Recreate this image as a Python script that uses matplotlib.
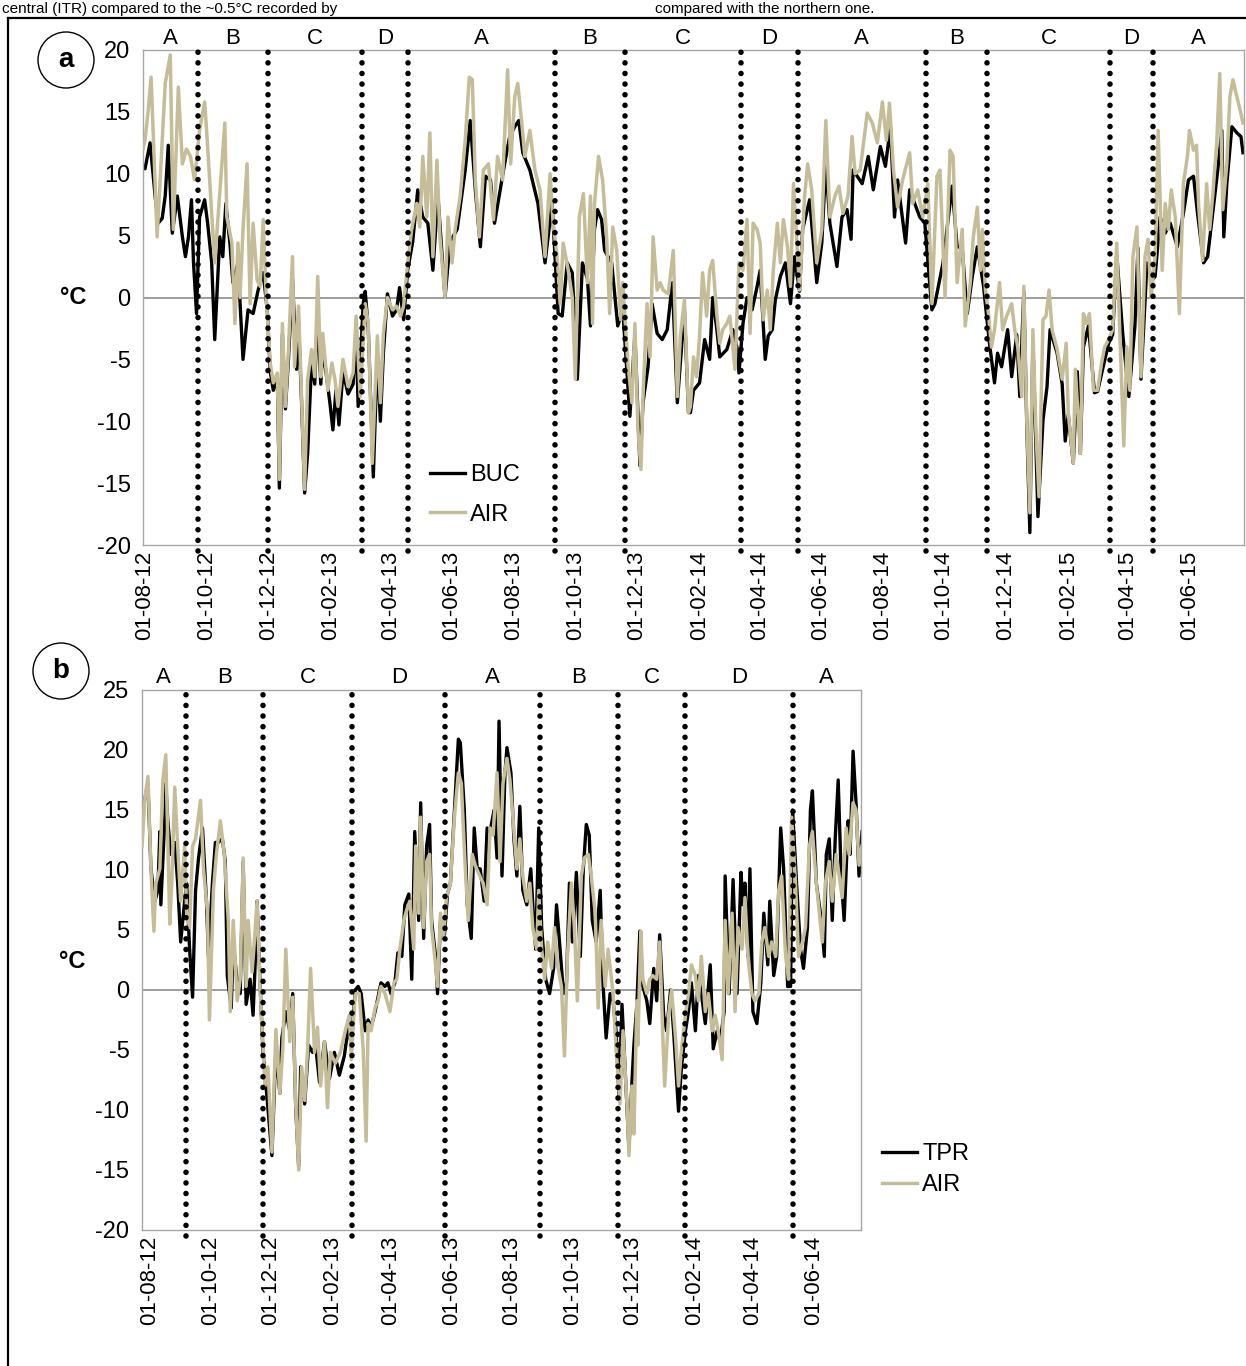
import numpy as np
import pandas as pd
import matplotlib
matplotlib.use("Agg")
import matplotlib.pyplot as plt
from matplotlib.patches import Ellipse
from matplotlib.lines import Line2D
import matplotlib.transforms as mtransforms

plt.rcParams['font.family'] = ['Liberation Sans', 'DejaVu Sans']
plt.rcParams['axes.unicode_minus'] = False

# ---------------- data (days counted from 01-08-2012) ----------------
base_date = "2012-08-01"

# Panel a: BUC site vs AIR
a_air_day = [-2, 0, 3, 6, 12, 20, 25, 28, 33, 37,
             41, 45, 49, 54, 59, 61, 69, 79, 81, 86,
             89, 92, 94, 97, 101, 104, 107, 111, 114, 117,
             120, 124, 127, 131, 133, 136, 139, 142, 146, 148,
             152, 155, 158, 161, 165, 168, 171, 174, 176, 181,
             185, 188, 191, 196, 201, 206, 209, 213, 218, 221,
             225, 230, 233, 236, 240, 245, 249, 253, 256, 260,
             264, 269, 272, 275, 279, 282, 285, 289, 292, 297,
             300, 304, 307, 312, 317, 321, 324, 327, 331, 335,
             340, 345, 349, 354, 359, 362, 366, 369, 373, 376,
             381, 386, 391, 396, 401, 404, 408, 411, 414, 419,
             423, 426, 430, 434, 438, 441, 443, 445, 449, 453,
             457, 460, 463, 467, 471, 473, 478, 482, 485, 488,
             491, 493, 497, 500, 503, 507, 510, 513, 518, 523,
             527, 530, 534, 538, 540, 543, 546, 549, 552, 556,
             559, 562, 566, 569, 572, 576, 579, 584, 588, 592,
             596, 599, 602, 606, 609, 612, 616, 619, 622, 626,
             629, 632, 636, 639, 642, 648, 653, 656, 660, 665,
             670, 674, 678, 683, 687, 691, 696, 700, 703, 708,
             715, 720, 725, 730, 734, 737, 741, 745, 750, 757,
             760, 765, 770, 775, 779, 784, 787, 792, 797, 800,
             804, 809, 812, 817, 820, 824, 827, 829, 832, 835,
             838, 841, 846, 849, 853, 858, 861, 864, 868, 870,
             873, 876, 879, 882, 885, 889, 892, 895, 898, 903,
             908, 912, 914, 919, 921, 926, 929, 932, 935, 939,
             943, 947, 950, 954, 958, 962, 965, 969, 972, 975,
             978, 982, 986, 990, 993, 996, 1000, 1003, 1007, 1010,
             1013, 1016, 1020, 1024, 1028, 1032, 1034, 1038, 1041, 1043,
             1047, 1051, 1054, 1057, 1061, 1064, 1067, 1071, 1074, 1077,
             1081, 1084, 1087]
a_air_val = [12.0, 12.7, 15.0, 17.8, 4.9, 17.3, 19.6, 5.5, 17.0, 10.8,
             12.0, 11.4, 9.5, 13.5, 15.8, 13.5, 2.8, 14.1, 6.5, 4.4,
             -2.1, 4.4, 0.0, 5.5, 10.8, -0.5, 6.0, 1.4, 0.9, 6.3,
             0.0, -5.3, -6.9, -6.1, -14.7, -2.1, -8.8, -4.2, 3.3, -5.6,
             -0.7, -8.0, -15.5, -6.6, -4.2, -6.4, 1.7, -6.4, -2.9, -7.5,
             -5.3, -6.6, -8.8, -5.0, -7.2, -6.1, -1.5, -8.0, -0.5, -2.1,
             -13.4, -3.1, -8.5, -2.9, 0.0, -1.0, -0.7, -1.5, -0.7, 2.8,
             5.5, 7.6, 5.7, 11.4, 6.5, 13.3, 3.3, 11.1, 4.9, 0.0,
             6.5, 2.8, 5.5, 8.2, 12.7, 17.8, 17.6, 9.5, 4.9, 10.3,
             10.8, 6.3, 11.4, 9.5, 18.4, 10.8, 16.2, 17.3, 14.1, 11.4,
             13.5, 10.3, 8.7, 3.3, 10.0, 6.0, 3.3, -0.5, 4.4, 2.2,
             0.0, -6.6, 6.5, 8.4, 1.2, 8.2, -2.1, 7.6, 11.4, 9.5,
             4.9, -1.3, 5.7, 3.8, -1.8, 1.2, -5.3, -8.5, -2.1, -10.7,
             -13.9, -8.0, -0.5, -4.8, 4.9, 0.6, 1.2, 0.6, 0.3, 3.8,
             -8.0, -3.1, -0.2, -9.3, -8.8, -4.8, -6.4, -3.1, 2.0, -1.5,
             2.2, 3.0, -1.3, -3.7, -2.6, -2.1, -1.5, -5.8, 2.8, 2.2,
             6.3, -2.9, 6.0, 5.5, 4.4, -1.8, 0.6, -2.6, 2.2, 6.0,
             2.8, 6.3, 4.1, 0.9, 9.2, 0.6, 8.2, 10.8, 8.7, 2.8,
             5.5, 14.3, 6.5, 8.2, 9.0, 6.8, 8.2, 13.0, 10.0, 10.3,
             14.9, 14.1, 12.5, 15.8, 12.7, 15.7, 10.3, 7.3, 9.5, 11.7,
             7.6, 8.7, 6.5, 9.2, -0.5, 9.8, 10.3, 0.0, 11.9, 11.4,
             1.2, 5.5, -2.3, 1.2, 4.9, 7.3, 2.2, 5.5, 0.6, -1.3,
             -4.0, -2.6, 1.2, -2.6, -1.5, -0.5, -2.6, -4.0, -8.0, 0.9,
             -10.1, -17.4, -2.6, -10.7, -16.1, -1.8, -1.5, 0.6, -2.6, -4.2,
             -6.6, -3.7, -9.3, -13.4, -5.8, -12.6, -1.3, -2.1, -1.3, -7.5,
             -7.5, -5.3, -4.0, -3.4, -2.6, 4.4, -2.6, -12.0, -4.0, -7.5,
             3.3, 5.7, -6.4, 3.3, 4.7, 0.0, 3.3, 13.5, 2.2, 7.6,
             5.5, 8.7, 6.5, -1.3, 9.2, 11.4, 13.5, 11.9, 12.3, 7.6,
             3.0, 9.2, 5.5, 8.2, 12.5, 18.1, 7.1, 10.8, 16.2, 17.6,
             16.2, 15.2, 14.1]

a_buc_day = [-2, 0, 5, 10, 13, 17, 20, 23, 27, 32, 37,
             40, 43, 46, 48, 51, 54, 59, 62, 66, 69,
             74, 77, 80, 84, 87, 92, 97, 102, 107, 112,
             117, 121, 124, 127, 131, 133, 136, 139, 142, 146,
             150, 152, 155, 158, 161, 165, 168, 171, 174, 176,
             183, 186, 189, 192, 196, 201, 206, 209, 211, 216,
             218, 221, 226, 230, 233, 236, 240, 245, 249, 252,
             256, 260, 265, 270, 275, 280, 285, 290, 297, 302,
             309, 317, 322, 327, 332, 337, 342, 346, 351, 356,
             361, 366, 370, 374, 381, 389, 396, 403, 409, 413,
             418, 423, 428, 433, 438, 441, 445, 448, 452, 455,
             462, 468, 473, 480, 485, 490, 493, 498, 502, 507,
             512, 517, 522, 527, 530, 534, 538, 540, 543, 549,
             554, 559, 562, 566, 569, 576, 582, 586, 588, 592,
             596, 601, 606, 609, 614, 617, 621, 624, 629, 634,
             639, 643, 648, 651, 658, 665, 670, 674, 678, 685,
             690, 695, 699, 701, 710, 716, 721, 728, 733, 738,
             742, 745, 753, 757, 767, 772, 779, 782, 790, 799,
             804, 809, 814, 819, 824, 830, 836, 841, 844, 848,
             854, 858, 863, 866, 870, 873, 876, 879, 884, 889,
             893, 896, 903, 908, 911, 914, 919, 923, 926, 929,
             934, 940, 943, 948, 954, 958, 962, 968, 974, 980,
             983, 986, 992, 997, 1000, 1005, 1010, 1015, 1022, 1028,
             1033, 1038, 1042, 1048, 1052, 1057, 1062, 1066, 1068, 1071,
             1076, 1081, 1085, 1087]
a_buc_val = [10.5, 10.4, 12.5, 8.2, 6.0, 6.4, 8.2, 12.3, 5.2, 8.2, 4.9,
             3.3, 4.9, 7.9, 2.8, -1.3, 6.5, 7.9, 6.0, 2.8, -3.4,
             4.9, 3.3, 7.6, 4.4, 1.2, 2.8, -5.0, -1.0, -1.3, 0.6,
             2.0, -1.0, -6.0, -7.5, -6.5, -15.4, -3.0, -9.0, -5.0, 1.5,
             -5.8, -2.0, -8.5, -15.8, -12.6, -5.0, -7.0, -1.0, -7.0, -4.0,
             -8.5, -10.7, -7.5, -10.3, -6.0, -7.8, -7.0, -3.0, -8.8, -0.5,
             0.5, -2.5, -14.5, -4.5, -10.0, -4.5, 0.3, -1.5, -1.0, 0.8,
             -1.8, 2.2, 4.5, 8.7, 6.5, 6.0, 2.2, 8.2, 0.0, 4.5,
             5.5, 10.3, 14.3, 8.7, 4.1, 9.8, 9.5, 6.0, 8.4, 10.8,
             13.0, 13.8, 14.3, 11.7, 10.3, 7.6, 2.8, 7.6, -1.3, -1.5,
             2.8, 2.0, -6.6, 2.8, 1.5, -2.3, 5.5, 7.1, 6.3, 3.8,
             2.8, -2.3, -1.0, -9.6, -3.0, -13.6, -8.5, -5.6, -0.5, -2.9,
             -3.4, -2.6, 1.2, -8.5, -5.3, -1.0, -9.3, -9.3, -7.5, -6.9,
             -3.4, -5.0, 0.0, -2.5, -4.8, -4.2, -2.6, -4.0, -6.1, -2.1,
             0.0, -1.0, 0.9, 2.2, -5.0, -3.1, -2.6, -0.2, 1.7, 2.8,
             -0.5, 3.3, 0.5, 5.5, 7.9, 1.2, 4.4, 10.8, 6.0, 2.5,
             6.5, 7.1, 4.7, 10.3, 9.2, 11.4, 8.7, 12.2, 10.6, 13.8,
             6.5, 9.5, 4.4, 8.7, 6.5, 6.0, -1.0, -0.5, 2.8, 9.0,
             4.1, 4.0, -1.3, 1.7, 4.1, 1.0, -3.7, -6.9, -4.5, -5.6,
             -2.6, -6.4, -3.0, -8.0, 0.5, -10.5, -19.0, -3.5, -17.7, -9.9,
             -7.2, -2.6, -4.5, -7.0, -11.6, -9.5, -13.4, -6.0, -12.6, -4.0,
             -2.3, -7.7, -7.6, -5.8, -3.7, -3.0, 3.5, -3.0, -8.0, -2.3,
             4.0, -6.6, 2.8, 1.4, 1.7, 6.5, 5.2, 6.0, 4.1, 6.8,
             9.5, 9.8, 6.8, 2.8, 3.3, 6.8, 10.3, 13.5, 4.9, 9.2,
             13.8, 13.3, 13.0, 11.7]

# Panel b: TPR site vs AIR
b_air_day = [-8, -5, -2, 1, 4, 6, 10, 13, 16, 20,
             22, 25, 29, 31, 35, 37, 40, 43, 46, 51,
             54, 58, 60, 64, 67, 71, 75, 79, 81, 84,
             88, 91, 94, 97, 99, 103, 105, 108, 111, 116,
             119, 123, 127, 131, 134, 137, 141, 144, 147, 150,
             153, 156, 159, 162, 166, 169, 172, 176, 179, 182,
             187, 192, 197, 201, 203, 207, 211, 215, 218, 220,
             223, 227, 230, 233, 237, 242, 246, 249, 252, 256,
             259, 262, 266, 268, 271, 273, 276, 279, 282, 284,
             288, 290, 293, 296, 299, 303, 307, 311, 314, 318,
             321, 325, 328, 331, 336, 340, 343, 346, 350, 353,
             356, 360, 363, 366, 370, 373, 376, 380, 383, 386,
             390, 392, 395, 398, 401, 405, 408, 411, 415, 418,
             421, 425, 428, 431, 435, 438, 442, 445, 449, 452,
             455, 459, 462, 467, 470, 474, 477, 481, 483, 486,
             488, 491, 492, 495, 497, 501, 504, 507, 511, 514,
             517, 519, 523, 526, 530, 533, 536, 540, 543, 546,
             550, 553, 556, 560, 563, 567, 570, 573, 577, 580,
             583, 587, 590, 593, 597, 600, 603, 607, 610, 614,
             617, 620, 624, 627, 631, 634, 637, 641, 644, 647,
             651, 654, 658, 661, 665, 668, 672, 675, 678, 681,
             685, 688, 692, 695, 698, 702, 705, 709, 712, 715,
             718]
b_air_val = [12.0, 16.0, 17.8, 10.1, 4.9, 8.9, 10.1, 17.5, 19.6, 5.5,
             8.9, 16.9, 10.4, 7.4, 12.0, 6.5, 5.2, 12.0, 12.6, 15.8,
             10.1, 6.5, -2.5, 8.3, 11.3, 14.1, 11.3, 5.8, -1.8, 5.8,
             -0.9, 0.9, 11.0, 0.3, 5.8, 1.5, 3.7, 7.4, 0.3, -8.0,
             -6.4, -13.5, -3.3, -8.6, -4.9, 3.4, -4.3, -0.6, -9.5, -15.0,
             -6.4, -9.2, -4.9, 1.8, -5.2, -3.1, -8.0, -4.3, -9.8, -5.2,
             -6.1, -5.2, -3.4, -2.1, -5.8, -0.3, -0.3, -4.9, -12.6, -2.8,
             -3.4, -1.5, -0.9, 0.3, -0.3, -1.8, 0.6, 0.9, 3.4, 5.8,
             6.7, 7.4, 3.4, 12.0, 6.4, 14.4, 5.2, 10.7, 11.3, 5.2,
             2.1, 0.3, 6.4, 4.3, 7.7, 8.9, 14.4, 18.1, 17.2, 10.1,
             5.8, 11.3, 10.4, 9.8, 8.9, 7.1, 13.5, 12.9, 18.1, 10.7,
             17.2, 19.3, 17.5, 14.4, 10.1, 12.6, 9.5, 7.4, 8.9, 5.2,
             3.4, 8.3, 3.4, 0.9, 4.0, 1.8, 5.2, 2.1, 0.3, -5.5,
             2.8, 8.9, 5.2, -0.9, 9.5, 11.0, 11.3, 9.5, 6.4, -1.5,
             5.8, 0.3, 3.4, -0.3, -4.9, -9.5, -3.4, -9.5, -13.8, -8.0,
             -12.0, -0.9, -4.6, 4.9, 0.9, -0.3, 0.9, 1.2, 0.9, 4.0,
             -3.4, -8.0, -2.1, 0.0, -4.0, -8.0, -4.9, -2.1, -0.3, 2.1,
             1.2, -0.9, 2.8, -1.8, -0.3, -3.4, -2.1, -3.4, -5.8, 5.8,
             -0.3, 6.4, -1.8, 5.2, 3.4, 7.7, 2.8, -0.3, -0.9, -0.3,
             4.0, 5.2, 2.8, 4.0, 2.8, 8.3, 9.5, 2.8, 0.9, 14.4,
             8.9, 2.8, 4.0, 5.2, 12.0, 13.2, 8.9, 6.4, 4.0, 8.9,
             10.7, 7.4, 11.3, 9.5, 7.7, 13.5, 11.3, 15.6, 15.0, 10.4,
             12.0]

b_tpr_day = [-8, -5, -2, 1, 5, 8, 10, 11, 15, 16,
             18, 21, 25, 28, 31, 35, 37, 40, 43, 46,
             49, 53, 57, 59, 63, 66, 69, 73, 76, 78,
             82, 84, 88, 91, 94, 97, 101, 104, 107, 108,
             111, 114, 118, 123, 127, 131, 133, 137, 141, 144,
             147, 150, 152, 156, 160, 164, 167, 171, 176, 181,
             186, 191, 196, 200, 203, 207, 210, 213, 217, 220,
             223, 227, 230, 233, 237, 240, 243, 247, 250, 254,
             257, 261, 264, 267, 271, 273, 276, 279, 282, 284,
             288, 290, 293, 297, 300, 303, 308, 311, 313, 317,
             320, 324, 327, 330, 333, 337, 340, 343, 347, 350,
             352, 355, 358, 360, 364, 367, 370, 373, 376, 380,
             384, 387, 389, 392, 395, 399, 403, 407, 410, 413,
             417, 420, 423, 426, 430, 434, 437, 440, 443, 446,
             450, 454, 457, 460, 464, 467, 470, 473, 476, 480,
             483, 486, 488, 491, 494, 497, 501, 504, 508, 511,
             514, 518, 521, 525, 528, 533, 536, 540, 543, 546,
             550, 553, 556, 560, 565, 568, 572, 575, 579, 580,
             584, 588, 592, 596, 598, 600, 603, 605, 608, 612,
             616, 619, 623, 625, 629, 632, 636, 639, 643, 646,
             648, 652, 656, 659, 663, 666, 668, 672, 677, 680,
             682, 685, 688, 691, 694, 697, 700, 704, 706, 709,
             712, 715, 718]
b_tpr_val = [14.7, 16.0, 17.2, 10.1, 7.4, 8.3, 13.2, 7.1, 14.4, 17.2,
             14.1, 11.3, 12.3, 8.9, 4.0, 7.4, 8.9, 3.4, -0.6, 8.3,
             11.0, 13.5, 7.4, 2.8, 8.9, 12.3, 12.3, 12.6, 10.7, 1.2,
             -1.5, 4.0, 0.6, -0.3, 10.7, -1.2, 0.9, -2.1, 4.0, 7.4,
             0.6, -5.2, -8.9, -13.8, -4.9, -8.6, -4.0, -1.8, -3.4, -0.3,
             -9.8, -14.7, -6.4, -9.5, -4.6, -5.2, -4.6, -7.7, -4.3, -7.4,
             -5.2, -7.1, -5.5, -3.1, -4.6, 0.0, 0.3, -0.3, -3.4, -2.5,
             -3.1, -1.8, -0.6, 0.6, 0.3, 0.6, -0.3, 0.6, 3.1, 2.8,
             7.1, 8.0, 0.9, 13.2, 5.8, 15.6, 4.3, 12.0, 13.8, 5.8,
             2.8, -0.3, 5.8, 4.6, 8.0, 8.9, 16.3, 20.9, 20.6, 15.0,
             7.1, 4.3, 13.5, 10.1, 10.1, 7.4, 13.5, 13.2, 15.0, 11.0,
             22.4, 9.5, 18.1, 20.2, 18.1, 12.6, 9.5, 15.3, 8.3, 7.1,
             10.1, 5.8, 3.4, 13.5, 5.2, 0.9, -0.3, 1.8, 7.1, 4.0,
             -0.3, 0.6, 8.9, 4.0, 9.8, 2.8, 10.1, 13.8, 12.9, 5.8,
             4.0, 8.3, 0.3, -4.0, -0.3, -0.9, -3.4, -8.9, -1.2, -8.0,
             -13.2, -7.7, -4.6, -1.2, 4.9, 0.3, -0.9, -2.8, 1.8, -0.9,
             4.6, -2.1, -3.4, 0.0, -3.4, -10.1, -6.4, -3.4, -1.8, 0.6,
             -3.4, 1.2, -0.3, -2.8, 2.1, -4.9, -3.4, -4.3, -1.8, 9.5,
             -0.3, 9.2, -0.3, 9.8, 7.1, 8.9, 2.8, 10.1, -1.8, -2.8,
             0.6, 6.4, 2.1, 7.4, 1.2, 2.8, 13.5, 10.1, 0.3, 0.3,
             15.0, 8.9, 3.4, 1.8, 5.2, 15.0, 16.6, 8.9, 5.8, 2.8,
             11.3, 12.6, 5.8, 12.6, 17.5, 9.5, 5.8, 14.1, 11.3, 19.9,
             15.6, 9.5, 13.2]

# Season boundaries (days from 01-08-2012) and season letters
a_bounds = [52, 122, 215, 260, 406, 475, 590, 646, 773, 834, 955, 998]
a_letters = ["A", "B", "C", "D", "A", "B", "C", "D", "A", "B", "C", "D", "A"]
a_xlim = (-2, 1088)
b_bounds = [36, 114, 204, 298, 393, 472, 540, 648]
b_letters = ["A", "B", "C", "D", "A", "B", "C", "D", "A"]
b_xlim = (-8, 717)

tick_dates_a = pd.date_range("2012-08-01", "2015-06-01", freq="2MS")
tick_dates_b = pd.date_range("2012-08-01", "2014-06-01", freq="2MS")

caption_left = "central (ITR) compared to the ~0.5°C recorded by"
caption_right = "compared with the northern one."

# ---------------- drawing ----------------
base = pd.Timestamp(base_date)


def to_dates(days):
    return base + pd.to_timedelta(np.asarray(days, dtype=float), unit="D")


AIR_COLOR = "#C4BD97"
W, H = 1246, 1366
fig = plt.figure(figsize=(W / 100, H / 100), dpi=100)


def panel(rect, series, bounds, letters, xlim, ylim, yticks, ticks, legend_anchor, lab_spacing):
    ax = fig.add_axes(rect)
    ax.axhline(0, color="#8C8C8C", lw=1.2, zorder=1)
    for day, val, col, lab, lw, z in series:
        assert len(day) == len(val), (lab, len(day), len(val))
        ax.plot(to_dates(day), val, color=col, lw=lw, label=lab, zorder=z,
                solid_joinstyle="round")
    for b in bounds:
        ax.axvline(to_dates([b])[0], ymin=-0.012, ymax=1.0, clip_on=False,
                   color="black", lw=4.0, ls=(0, (0.01, 1.9)),
                   dash_capstyle="round", zorder=5)
    edges = [xlim[0]] + list(bounds) + [xlim[1]]
    trans = mtransforms.blended_transform_factory(ax.transData, ax.transAxes)
    for i, letter in enumerate(letters):
        mid = (edges[i] + edges[i + 1]) / 2
        ax.text(to_dates([mid])[0], 1.024, letter, transform=trans,
                ha="center", va="center", fontsize=16)
    ax.set_xlim(to_dates([xlim[0]])[0], to_dates([xlim[1]])[0])
    ax.set_ylim(*ylim)
    ax.set_yticks(yticks)
    ax.set_yticklabels([str(v) for v in yticks])
    ax.set_xticks(ticks)
    ax.set_xticklabels([t.strftime("%d-%m-%y") for t in ticks], rotation=90)
    ax.tick_params(axis="y", length=0, pad=9, labelsize=17)
    ax.tick_params(axis="x", length=0, pad=4, labelsize=16)
    for s in ax.spines.values():
        s.set_color("#A6A6A6")
        s.set_linewidth(1.0)
    handles, labels = ax.get_legend_handles_labels()
    order = [labels.index(l) for l in [series[0][3], series[1][3]]]
    ax.legend([handles[i] for i in order], [labels[i] for i in order],
              loc="upper left", bbox_to_anchor=legend_anchor, frameon=False,
              fontsize=17, handlelength=1.5, handletextpad=0.2,
              labelspacing=lab_spacing, borderpad=0, borderaxespad=0)
    return ax


axa = panel([143 / W, 1 - 545 / H, 1101 / W, 495 / H],
            [(a_buc_day, a_buc_val, "black", "BUC", 2.4, 2),
             (a_air_day, a_air_val, AIR_COLOR, "AIR", 2.5, 3)],
            a_bounds, a_letters, a_xlim, (-20, 20), list(range(-20, 21, 5)),
            tick_dates_a, ((430 - 143) / 1101, (545 - 464) / 495), 0.75)

axb = panel([142 / W, 1 - 1230 / H, 719 / W, 540 / H],
            [(b_tpr_day, b_tpr_val, "black", "TPR", 2.4, 2),
             (b_air_day, b_air_val, AIR_COLOR, "AIR", 2.5, 3)],
            b_bounds, b_letters, b_xlim, (-20, 25), list(range(-20, 26, 5)),
            tick_dates_b, ((882 - 142) / 719, (1230 - 1143) / 540), 0.4)

# unit labels
fig.text(73 / W, 1 - 297 / H, "°C", fontsize=17, fontweight="bold", ha="center", va="center")
fig.text(72 / W, 1 - 962 / H, "°C", fontsize=17, fontweight="bold", ha="center", va="center")

# circled panel letters
for cx, cy, lab in [(66, 60, "a"), (61, 671, "b")]:
    fig.add_artist(Ellipse((cx / W, 1 - cy / H), 56 / W, 56 / H, transform=fig.transFigure,
                           fill=False, ec="black", lw=1.0))
    fig.text(cx / W, 1 - cy / H, lab, fontsize=20, fontweight="bold", ha="center", va="center")

# outer frame (partially visible)
fig.add_artist(Line2D([8 / W, 8 / W], [0, 1 - 18 / H], transform=fig.transFigure, color="black", lw=1.6))
fig.add_artist(Line2D([8 / W, 1], [1 - 18 / H, 1 - 18 / H], transform=fig.transFigure, color="black", lw=1.6))

# caption line above the frame (kept fully visible, small)
fig.text(2 / W, 1 - 13 / H, caption_left, fontsize=11, ha="left", va="baseline")
fig.text(655 / W, 1 - 13 / H, caption_right, fontsize=11, ha="left", va="baseline")

fig.savefig("out.png", dpi=100, facecolor="white")
